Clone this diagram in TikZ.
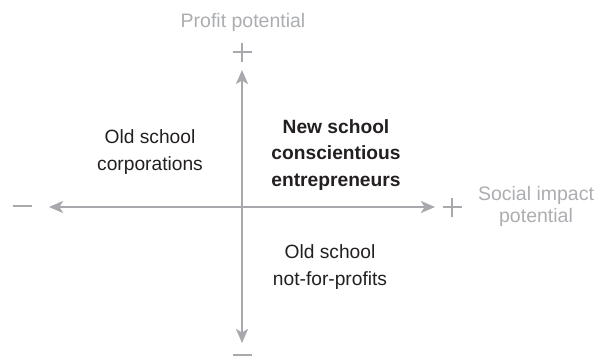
\documentclass[tikz,border=0pt]{standalone}
\usepackage{fontspec}
\setmainfont{Liberation Sans}
\usetikzlibrary{arrows.meta}
\definecolor{axisgray}{HTML}{A7A9AC}
\definecolor{labelgray}{HTML}{ABADB0}
\definecolor{inkdark}{HTML}{231F20}
\tikzset{
  axis/.style={draw=axisgray, line width=2.2pt,
    arrows={Stealth[length=14pt,width=12pt,inset=3.5pt]-Stealth[length=14pt,width=12pt,inset=3.5pt]}},
  sign/.style={draw=axisgray, line width=1.4pt},
  axislabel/.style={text=labelgray, font=\fontsize{19.5}{23}\selectfont, align=center, inner sep=0pt},
  quadrant/.style={text=inkdark, font=\fontsize{19.2}{26.5}\selectfont, align=center, inner sep=0pt},
  quadbold/.style={quadrant, font=\fontsize{19.2}{26.5}\selectfont\bfseries}
}
\begin{document}
\begin{tikzpicture}[x=1pt,y=-1pt]
\useasboundingbox (0,0) rectangle (604,356);
% axis end points
\coordinate (o) at (242,207);
\coordinate (top) at (242,70);
\coordinate (bottom) at (242,343);
\coordinate (left) at (49,207);
\coordinate (right) at (435,207);
% axes
\draw[axis] (left) -- (right);
\draw[axis] (bottom) -- (top);
% plus and minus signs at the axis ends
\draw[sign] (232.5,52) -- (251.5,52) (242,42.5) -- (242,61.5);
\draw[sign] (442.5,207) -- (461.5,207) (452,197.5) -- (452,216.5);
\draw[sign] (12.5,206) -- (31.5,206);
\draw[sign] (232.5,355) -- (251.5,355);
% axis labels
\node[axislabel] (profit) at (243,22) {Profit potential};
\node[axislabel] (social) at (536,206) {Social impact\\[-1pt]potential};
% quadrant labels
\node[quadbold] (newschool) at (336,155) {New school\\conscientious\\entrepreneurs};
\node[quadrant] (corps) at (150,152) {Old school\\corporations};
\node[quadrant] (nfp) at (330,267) {Old school\\not-for-profits};
\end{tikzpicture}
\end{document}
